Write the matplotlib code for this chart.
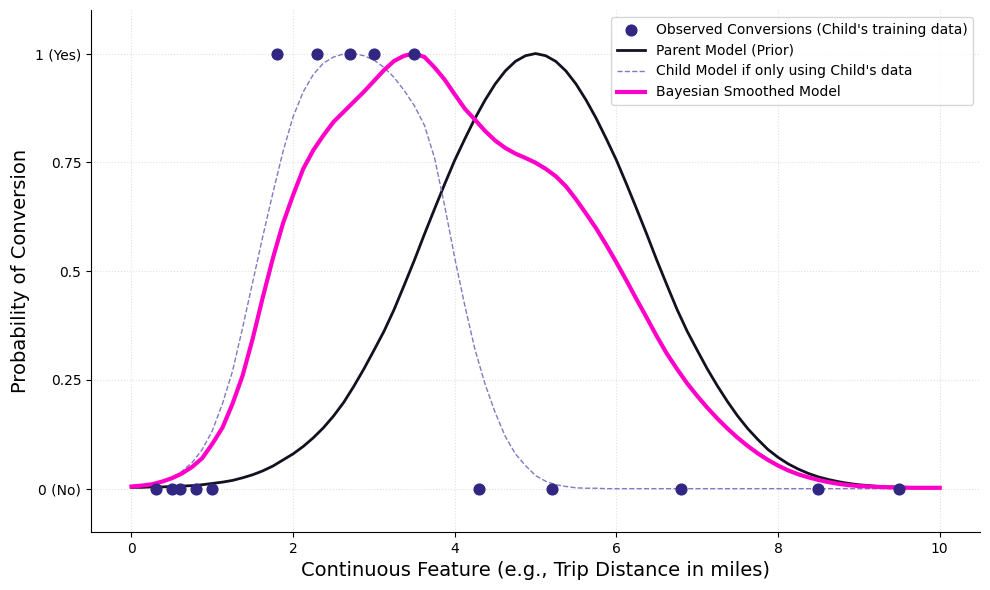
import numpy as np
import matplotlib
matplotlib.use("Agg")
import matplotlib.pyplot as plt

# Observed child data (0 = no conversion, 1 = conversion)
obs_x = [0.3, 0.5, 0.6, 0.8, 1.0, 1.8, 2.3, 2.7, 3.0, 3.5, 4.3, 5.2, 6.8, 8.5, 9.5]
obs_y = [0, 0, 0, 0, 0, 1, 1, 1, 1, 1, 0, 0, 0, 0, 0]

grid_x = np.linspace(0, 10, 81)

parent = [0.003, 0.003, 0.004, 0.004, 0.005, 0.006, 0.007, 0.009,
          0.012, 0.015, 0.019, 0.025, 0.032, 0.041, 0.052, 0.066,
          0.080, 0.097, 0.117, 0.140, 0.167, 0.198, 0.235, 0.275,
          0.318, 0.362, 0.412, 0.468, 0.525, 0.585, 0.643, 0.700,
          0.755, 0.804, 0.851, 0.893, 0.930, 0.960, 0.982, 0.995,
          1.000, 0.995, 0.982, 0.960, 0.930, 0.893, 0.851, 0.804,
          0.755, 0.700, 0.643, 0.585, 0.525, 0.468, 0.412, 0.362,
          0.318, 0.275, 0.236, 0.200, 0.167, 0.138, 0.113, 0.090,
          0.072, 0.057, 0.045, 0.035, 0.027, 0.021, 0.016, 0.012,
          0.009, 0.007, 0.005, 0.004, 0.003, 0.003, 0.002, 0.002,
          0.002]

child_only = [0.004, 0.006, 0.010, 0.016, 0.025, 0.040, 0.060, 0.090,
              0.133, 0.195, 0.270, 0.370, 0.475, 0.580, 0.680, 0.775,
              0.855, 0.912, 0.952, 0.978, 0.992, 0.999, 1.000, 0.995,
              0.985, 0.968, 0.945, 0.915, 0.880, 0.835, 0.760, 0.650,
              0.530, 0.420, 0.320, 0.240, 0.175, 0.120, 0.080, 0.053,
              0.030, 0.017, 0.009, 0.005, 0.002, 0.001, 0.001, 0.0,
              0.0, 0.0, 0.0, 0.0, 0.0, 0.0, 0.0, 0.0,
              0.0, 0.0, 0.0, 0.0, 0.0, 0.0, 0.0, 0.0,
              0.0, 0.0, 0.0, 0.0, 0.0, 0.0, 0.0, 0.0,
              0.0, 0.0, 0.0, 0.0, 0.0, 0.0, 0.0, 0.0,
              0.0]

bayes = [0.005, 0.007, 0.010, 0.016, 0.024, 0.035, 0.050, 0.070,
         0.103, 0.140, 0.195, 0.260, 0.345, 0.440, 0.530, 0.610,
         0.675, 0.735, 0.778, 0.812, 0.843, 0.866, 0.889, 0.912,
         0.937, 0.962, 0.983, 0.995, 1.000, 0.992, 0.968, 0.940,
         0.906, 0.873, 0.848, 0.822, 0.800, 0.783, 0.770, 0.760,
         0.749, 0.735, 0.718, 0.695, 0.665, 0.632, 0.598, 0.560,
         0.520, 0.478, 0.435, 0.393, 0.350, 0.310, 0.275, 0.242,
         0.213, 0.186, 0.161, 0.138, 0.117, 0.098, 0.081, 0.066,
         0.053, 0.042, 0.033, 0.026, 0.020, 0.015, 0.011, 0.008,
         0.006, 0.005, 0.004, 0.003, 0.003, 0.002, 0.002, 0.002,
         0.002]

fig, ax = plt.subplots(figsize=(9.9, 5.9), dpi=100)
fig.subplots_adjust(left=0.092, right=0.99, top=0.983, bottom=0.098)

ax.scatter(obs_x, obs_y, color='#312783', s=60, zorder=5,
           label="Observed Conversions (Child's training data)")
ax.plot(grid_x, parent, color='#13111f', lw=2, label='Parent Model (Prior)')
ax.plot(grid_x, child_only, color='#8478c0', lw=1, ls='--',
        label="Child Model if only using Child's data")
ax.plot(grid_x, bayes, color='#ff00c8', lw=3, label='Bayesian Smoothed Model')

ax.set_xlim(-0.5, 10.5)
ax.set_ylim(-0.1, 1.1)
ax.set_yticks([0, 0.25, 0.5, 0.75, 1])
ax.set_yticklabels(['0 (No)', '0.25', '0.5', '0.75', '1 (Yes)'])
ax.set_xlabel('Continuous Feature (e.g., Trip Distance in miles)', fontsize=14)
ax.set_ylabel('Probability of Conversion', fontsize=14)

ax.grid(True, linestyle=':', color='#cccccc', alpha=0.6)
ax.spines['top'].set_visible(False)
ax.spines['right'].set_visible(False)
ax.legend(loc='upper right', fontsize=10)

plt.savefig('out.png')
